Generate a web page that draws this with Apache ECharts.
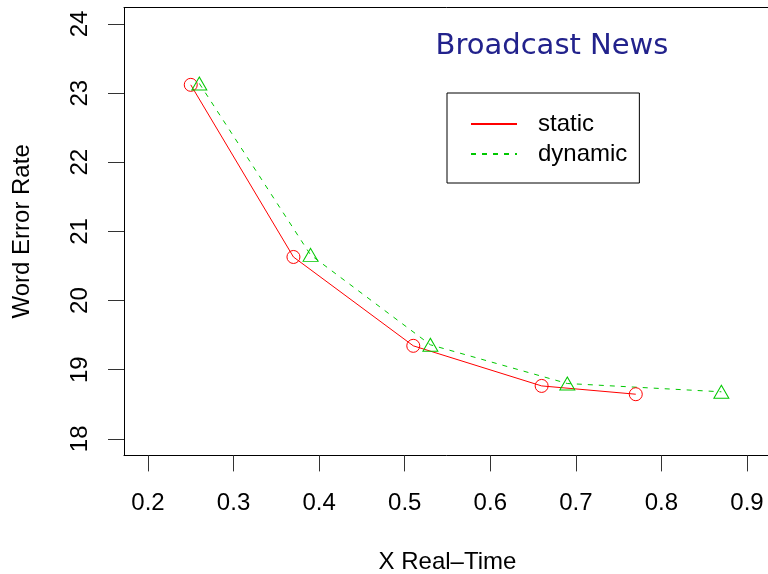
<!DOCTYPE html>
<html>
<head>
<meta charset="utf-8">
<script src="https://cdn.jsdelivr.net/npm/echarts@6/dist/echarts.min.js"></script>
<style>
  html, body { margin: 0; padding: 0; background: #fff; }
  #chart { width: 768px; height: 574px; }
</style>
</head>
<body>
<div id="chart"></div>
<script>
// values
const staticX = [0.25, 0.37, 0.51, 0.66, 0.77];
const staticY = [23.12, 20.63, 19.345, 18.765, 18.645];
const dynamicX = [0.26, 0.39, 0.53, 0.69, 0.87];
const dynamicY = [23.14, 20.66, 19.36, 18.8, 18.68];
const xTicks = [0.2, 0.3, 0.4, 0.5, 0.6, 0.7, 0.8, 0.9];
const yTicks = [18, 19, 20, 21, 22, 23, 24];

const font = 'Liberation Sans';
const xMin = 0.172, xMax = 0.928;

const pairs = (xs, ys) => xs.map((x, i) => [x, ys[i]]);

const chart = echarts.init(document.getElementById('chart'));

chart.setOption({
  animation: false,
  backgroundColor: '#fff',
  title: {
    text: 'Broadcast News',
    left: 547,
    top: 27,
    textAlign: 'center',
    textStyle: { fontFamily: 'DejaVu Sans', fontSize: 29, fontWeight: 'normal', color: '#22228c' }
  },
  legend: {
    orient: 'vertical',
    left: 447,
    top: 93,
    padding: [19, 12, 17, 23],
    itemWidth: 46,
    itemHeight: 14,
    itemGap: 6,
    borderColor: '#000',
    borderWidth: 1,
    borderRadius: 0,
    itemStyle: { opacity: 0 },
    textStyle: { fontFamily: font, fontSize: 24, color: '#000', padding: [0, 0, 0, 16] },
    data: ['static', 'dynamic']
  },
  grid: {
    left: 124,
    top: 7.4,
    width: 647,
    height: 448,
    outerBoundsMode: 'none'
  },
  xAxis: [
    {
      type: 'value',
      min: xMin,
      max: xMax,
      name: 'X Real\u2013Time',
      nameLocation: 'middle',
      nameGap: 95,
      nameTextStyle: { fontFamily: font, fontSize: 24, color: '#000' },
      splitLine: { show: false },
      axisLine: { show: true, lineStyle: { color: '#000', width: 1 } },
      axisTick: { show: true, customValues: xTicks, length: 16, lineStyle: { color: '#333' } },
      axisLabel: { customValues: xTicks, margin: 36, fontFamily: font, fontSize: 24, color: '#000' }
    },
    {
      // top edge of the plot box
      type: 'value',
      position: 'top',
      min: xMin,
      max: xMax,
      splitLine: { show: false },
      axisLine: { show: true, lineStyle: { color: '#000', width: 1 } },
      axisTick: { show: false },
      axisLabel: { show: false }
    }
  ],
  yAxis: {
    type: 'value',
    min: 17.76,
    max: 24.24,
    name: 'Word Error Rate',
    nameLocation: 'middle',
    nameRotate: 90,
    nameGap: 90,
    nameTextStyle: { fontFamily: font, fontSize: 24, color: '#000' },
    splitLine: { show: false },
    axisLine: { show: true, lineStyle: { color: '#000', width: 1 } },
    axisTick: { show: true, customValues: yTicks, length: 16, lineStyle: { color: '#333' } },
    axisLabel: { customValues: yTicks, rotate: 90, margin: 32, fontFamily: font, fontSize: 24, color: '#000' }
  },
  series: [
    {
      name: 'static',
      type: 'line',
      data: pairs(staticX, staticY),
      symbol: 'circle',
      symbolSize: 13,
      color: '#ff0000',
      lineStyle: { width: 1, color: '#ff0000' },
      itemStyle: { color: 'rgba(0,0,0,0)', borderColor: '#ff0000', borderWidth: 1 }
    },
    {
      name: 'dynamic',
      type: 'line',
      data: pairs(dynamicX, dynamicY),
      symbol: 'triangle',
      symbolSize: [15, 13],
      color: '#00c800',
      lineStyle: { width: 1, color: '#00c800', type: [5, 6] },
      itemStyle: { color: 'rgba(0,0,0,0)', borderColor: '#00c800', borderWidth: 1 }
    }
  ]
});
</script>
</body>
</html>
